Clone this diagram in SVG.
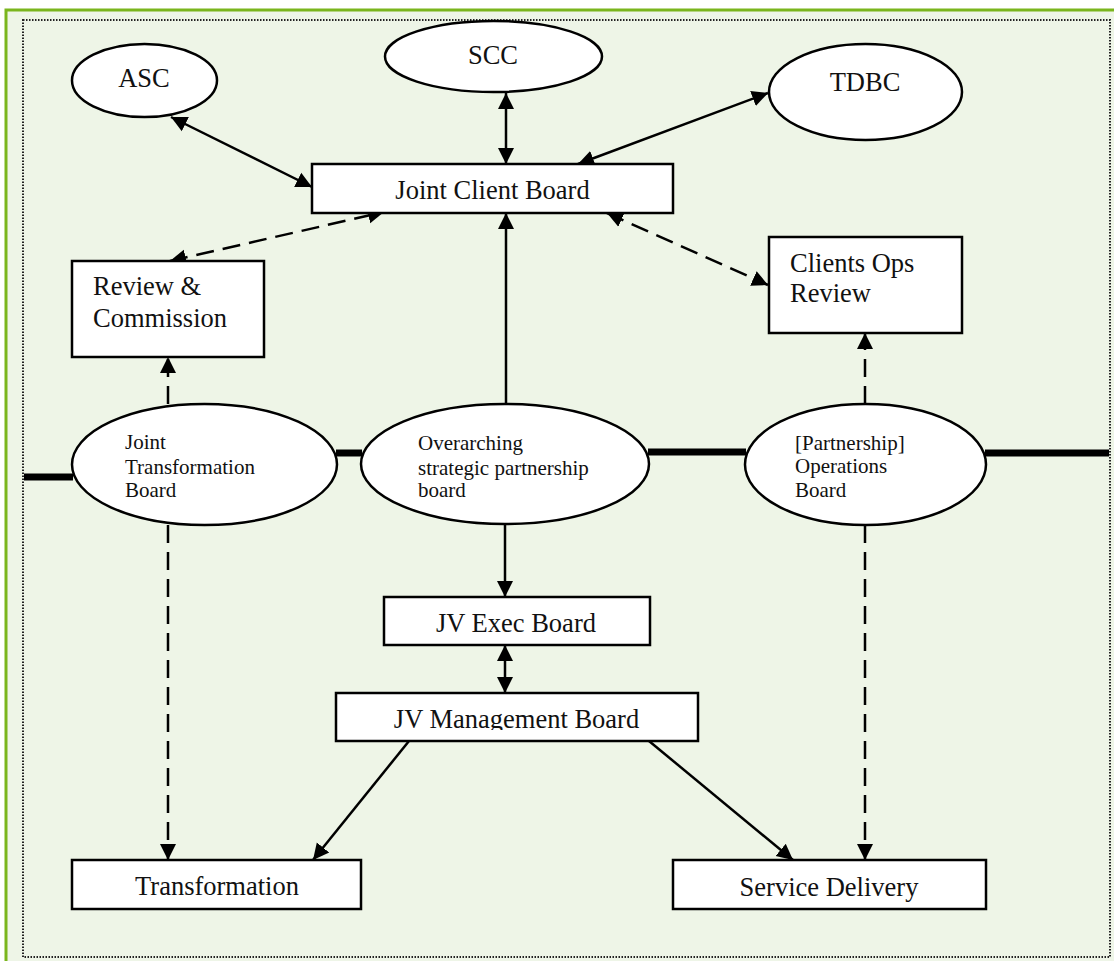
<svg xmlns="http://www.w3.org/2000/svg" width="1114" height="961" viewBox="0 0 1114 961">
<style>
.node{fill:#ffffff;stroke:#000;stroke-width:2.5}
.t{font-family:"Liberation Serif","Times New Roman",serif;font-size:26.5px;fill:#111}
.te{font-family:"Liberation Serif","Times New Roman",serif;font-size:21px;fill:#111}
.c{text-anchor:middle}
.ln{fill:none;stroke:#000;stroke-width:2.5}
.dash{stroke-dasharray:18 9}
.thick{fill:none;stroke:#000;stroke-width:7}
</style>
<defs>
<marker id="ah" markerUnits="userSpaceOnUse" markerWidth="18" markerHeight="18" viewBox="0 0 18 18" refX="16" refY="9" orient="auto-start-reverse">
<path d="M0,1 L16,9 L0,17 z" fill="#000"/>
</marker>
<clipPath id="clipMgmt"><rect x="336" y="693" width="362" height="37"/></clipPath>
</defs>
<rect x="6" y="10" width="1120" height="960" fill="#eef5e7" stroke="#7ab51d" stroke-width="3"/>
<rect x="23" y="20" width="1087" height="937" fill="none" stroke="#222" stroke-width="2" stroke-dasharray="1.5 1.5"/>

<g id="connectors">
<line class="thick" x1="24" y1="477" x2="73" y2="477"/>
<line class="thick" x1="336" y1="453" x2="362" y2="453"/>
<line class="thick" x1="648" y1="452" x2="746" y2="452"/>
<line class="thick" x1="985" y1="453" x2="1109" y2="453"/>
<line class="ln" x1="171" y1="117" x2="312" y2="187" marker-start="url(#ah)" marker-end="url(#ah)"/>
<line class="ln" x1="506" y1="93" x2="506" y2="164" marker-start="url(#ah)" marker-end="url(#ah)"/>
<line class="ln" x1="768" y1="93" x2="578" y2="164" marker-start="url(#ah)" marker-end="url(#ah)"/>
<line class="ln" x1="506" y1="404" x2="506" y2="213" marker-end="url(#ah)"/>
<line class="ln dash" x1="170" y1="261" x2="384" y2="212" marker-start="url(#ah)" marker-end="url(#ah)"/>
<line class="ln dash" x1="607" y1="213" x2="768" y2="285" marker-start="url(#ah)" marker-end="url(#ah)"/>
<line class="ln dash" x1="168" y1="404" x2="168" y2="357" marker-end="url(#ah)"/>
<line class="ln dash" x1="865" y1="404" x2="865" y2="333" marker-end="url(#ah)"/>
<line class="ln" x1="505" y1="524" x2="505" y2="597" marker-end="url(#ah)"/>
<line class="ln" x1="505" y1="645" x2="505" y2="693" marker-start="url(#ah)" marker-end="url(#ah)"/>
<line class="ln" x1="409" y1="741" x2="313" y2="860" marker-end="url(#ah)"/>
<line class="ln" x1="649" y1="741" x2="793" y2="860" marker-end="url(#ah)"/>
<line class="ln dash" x1="168" y1="525" x2="168" y2="860" marker-end="url(#ah)"/>
<line class="ln dash" x1="865" y1="525" x2="865" y2="860" marker-end="url(#ah)"/>
</g>

<g id="asc"><ellipse class="node" cx="144.5" cy="80.5" rx="72.5" ry="36.5"/><text class="t c" x="144" y="87">ASC</text></g>
<g id="scc"><ellipse class="node" cx="493.5" cy="56.5" rx="108.5" ry="35.5"/><text class="t c" x="493" y="64">SCC</text></g>
<g id="tdbc"><ellipse class="node" cx="865.5" cy="92" rx="96.5" ry="48"/><text class="t c" x="865" y="91">TDBC</text></g>
<g id="jcb"><rect class="node" x="312" y="164" width="361" height="49"/><text class="t c" x="492.5" y="199">Joint Client Board</text></g>
<g id="review"><rect class="node" x="72" y="261" width="192" height="96"/><text class="t" x="93" y="295">Review &amp;</text><text class="t" x="93" y="327">Commission</text></g>
<g id="clientsops"><rect class="node" x="769" y="237" width="193" height="96"/><text class="t" x="790" y="272">Clients Ops</text><text class="t" x="790" y="302">Review</text></g>
<g id="jtb"><ellipse class="node" cx="204.5" cy="464.5" rx="132.5" ry="60.5"/><text class="te" x="125" y="449">Joint</text><text class="te" x="125" y="474">Transformation</text><text class="te" x="125" y="497">Board</text></g>
<g id="osp"><ellipse class="node" cx="505" cy="464" rx="144" ry="60"/><text class="te" x="418" y="450">Overarching</text><text class="te" x="418" y="475">strategic partnership</text><text class="te" x="418" y="497">board</text></g>
<g id="pob"><ellipse class="node" cx="865.5" cy="464.5" rx="120.5" ry="60.5"/><text class="te" x="795" y="450">[Partnership]</text><text class="te" x="795" y="473">Operations</text><text class="te" x="795" y="497">Board</text></g>
<g id="jvexec"><rect class="node" x="384" y="597" width="266" height="48"/><text class="t c" x="516" y="632">JV Exec Board</text></g>
<g id="jvmgmt"><rect class="node" x="336" y="693" width="362" height="48"/><text class="t c" x="516.5" y="728" clip-path="url(#clipMgmt)">JV Management Board</text></g>
<g id="transformation"><rect class="node" x="72" y="860" width="289" height="49"/><text class="t c" x="217" y="895">Transformation</text></g>
<g id="servicedelivery"><rect class="node" x="673" y="860" width="313" height="49"/><text class="t c" x="829" y="896">Service Delivery</text></g>
</svg>
